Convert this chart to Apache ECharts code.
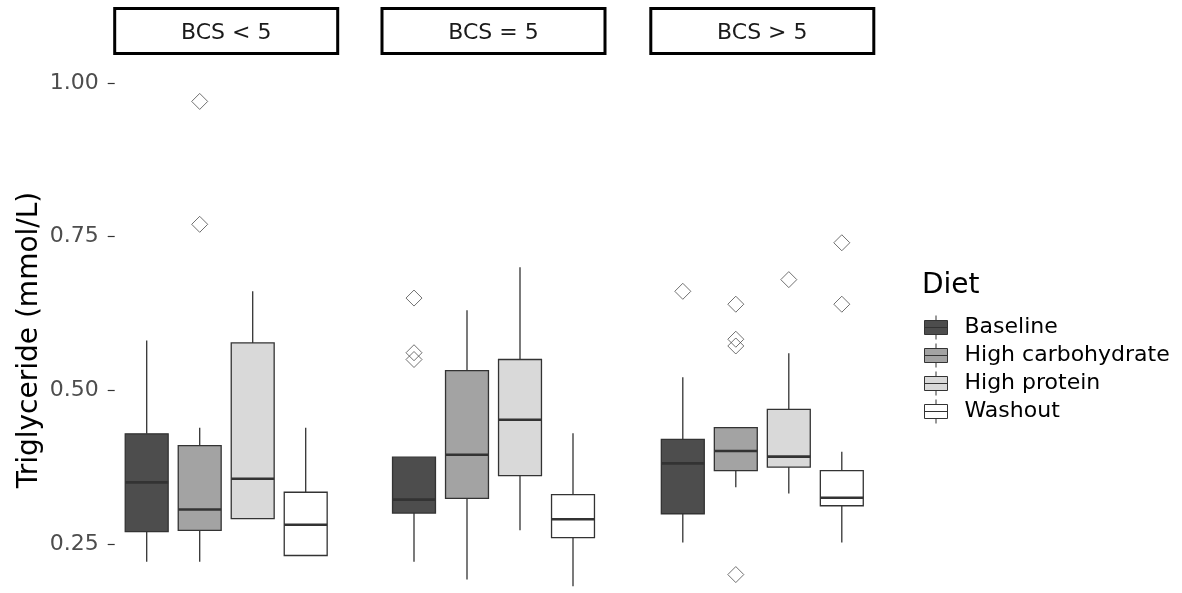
<!DOCTYPE html>
<html>
<head>
<meta charset="utf-8">
<script src="https://cdn.jsdelivr.net/npm/echarts@6/dist/echarts.min.js"></script>
<style>
  html, body { margin: 0; padding: 0; background: #ffffff; }
  #chart { width: 1182px; height: 593px; }
</style>
</head>
<body>
<div id="chart"></div>
<script>
// ---- data ----
const diets = ['Baseline', 'High carbohydrate', 'High protein', 'Washout'];
const facets = ['BCS < 5', 'BCS = 5', 'BCS > 5'];
const yTicks = [0.25, 0.50, 0.75, 1.00];

// box statistics per diet: [lower whisker, Q1, median, Q3, upper whisker]
const boxLt5 = [
  [0.221, 0.270, 0.350, 0.429, 0.581],
  [0.221, 0.272, 0.306, 0.410, 0.439],
  [0.291, 0.291, 0.356, 0.577, 0.661],
  [0.231, 0.231, 0.281, 0.334, 0.439]
];
const boxEq5 = [
  [0.221, 0.300, 0.322, 0.391, 0.391],
  [0.192, 0.324, 0.395, 0.532, 0.630],
  [0.272, 0.361, 0.452, 0.550, 0.700],
  [0.181, 0.260, 0.290, 0.330, 0.430]
];
const boxGt5 = [
  [0.252, 0.299, 0.381, 0.420, 0.521],
  [0.342, 0.369, 0.401, 0.439, 0.439],
  [0.332, 0.375, 0.392, 0.469, 0.560],
  [0.252, 0.312, 0.325, 0.369, 0.400]
];

// outliers: [diet index, value]
const outLt5 = [[1, 0.970], [1, 0.770]];
const outEq5 = [[0, 0.650], [0, 0.561], [0, 0.550]];
const outGt5 = [[0, 0.661], [1, 0.640], [1, 0.583], [1, 0.572], [1, 0.200], [2, 0.680], [3, 0.740], [3, 0.640]];

// ---- styling ----
const dietColors = ['#4D4D4D', '#A3A3A3', '#D9D9D9', '#FFFFFF'];
const FONT = 'DejaVu Sans';
const gridLefts = [120.2, 387.5, 656.3];
const gridWidth = 212;
const gridTop = 83;
const yMin = 0.17, yMax = 1.0;
const pxPerUnit = 620;

const boxes = [boxLt5, boxEq5, boxGt5];
const outs = [outLt5, outEq5, outGt5];

function renderBox(params, api) {
  const x = api.value(0);
  const lo = api.coord([x, api.value(1)]);
  const q1 = api.coord([x, api.value(2)]);
  const md = api.coord([x, api.value(3)]);
  const q3 = api.coord([x, api.value(4)]);
  const hi = api.coord([x, api.value(5)]);
  const bw = api.size([1, 0])[0] * 0.81;
  const hw = bw / 2;
  const cx = lo[0];
  const color = api.visual('color');
  const stroke = '#333333';
  return {
    type: 'group',
    children: [
      { type: 'line', shape: { x1: cx, y1: q3[1], x2: cx, y2: hi[1] }, style: { stroke: stroke, lineWidth: 1.3 } },
      { type: 'line', shape: { x1: cx, y1: q1[1], x2: cx, y2: lo[1] }, style: { stroke: stroke, lineWidth: 1.3 } },
      { type: 'rect', shape: { x: cx - hw, y: q3[1], width: bw, height: q1[1] - q3[1] }, style: { fill: color, stroke: stroke, lineWidth: 1.3 } },
      { type: 'line', shape: { x1: cx - hw, y1: md[1], x2: cx + hw, y2: md[1] }, style: { stroke: stroke, lineWidth: 2.6 } }
    ]
  };
}

const grids = [], xAxes = [], yAxes = [], series = [];
facets.forEach(function (f, fi) {
  grids.push({ left: gridLefts[fi], width: gridWidth, top: gridTop, height: (yMax - yMin) * pxPerUnit });
  xAxes.push({ type: 'category', gridIndex: fi, data: diets, show: false, boundaryGap: true });
  yAxes.push({
    type: 'value', gridIndex: fi, min: yMin, max: yMax,
    offset: 5.5,
    splitLine: { show: false },
    axisLine: { show: false },
    axisTick: { show: fi === 0, length: 7, lineStyle: { color: '#333333', width: 1.2 }, customValues: yTicks },
    axisLabel: {
      show: fi === 0, margin: 16, color: '#4D4D4D', fontFamily: FONT, fontSize: 22,
      customValues: yTicks,
      formatter: function (v) { return v.toFixed(2); }
    }
  });
  diets.forEach(function (d, di) {
    series.push({
      type: 'custom', name: d, xAxisIndex: fi, yAxisIndex: fi,
      renderItem: renderBox,
      itemStyle: { color: dietColors[di], borderColor: '#333333', borderWidth: 1 },
      encode: { x: 0, y: [1, 2, 3, 4, 5] },
      data: [[di].concat(boxes[fi][di])],
      silent: true
    });
  });
  series.push({
    type: 'scatter', name: 'outliers', xAxisIndex: fi, yAxisIndex: fi,
    symbol: 'diamond', symbolSize: 16,
    itemStyle: { color: 'rgba(0,0,0,0)', borderColor: '#4D4D4D', borderWidth: 1 },
    data: outs[fi], z: 5, silent: true, clip: false
  });
});

const graphics = [];
facets.forEach(function (f, fi) {
  const cx = gridLefts[fi] + gridWidth / 2;
  graphics.push({
    type: 'rect', shape: { x: cx - 111.5, y: 8.5, width: 223, height: 45 },
    style: { fill: '#ffffff', stroke: '#000000', lineWidth: 3 }
  });
  graphics.push({
    type: 'text', x: cx, y: 33,
    style: { text: f, fill: '#1A1A1A', font: '22px "' + FONT + '"', align: 'center', verticalAlign: 'middle' }
  });
});
graphics.push({
  type: 'text', x: 922, y: 286,
  style: { text: 'Diet', fill: '#000000', font: '28px "' + FONT + '"', align: 'left', verticalAlign: 'middle' }
});
graphics.push({
  type: 'text', x: 30, y: 340, rotation: Math.PI / 2,
  style: { text: 'Triglyceride (mmol/L)', fill: '#000000', font: '28px "' + FONT + '"', align: 'center', verticalAlign: 'middle' }
});

const chart = echarts.init(document.getElementById('chart'), null, { renderer: 'canvas' });
chart.setOption({
  backgroundColor: '#ffffff',
  animation: false,
  grid: grids,
  xAxis: xAxes,
  yAxis: yAxes,
  legend: {
    data: diets,
    orient: 'vertical',
    left: 924, top: 315,
    padding: 0,
    itemWidth: 23, itemHeight: 24, itemGap: 3,
    icon: 'path://M0,5L23,5L23,19L0,19Z M0,12L23,12 M11.5,0L11.5,5 M11.5,19L11.5,24',
    itemStyle: { borderColor: '#333333', borderWidth: 1 },
    textStyle: { fontFamily: FONT, fontSize: 22, color: '#000000', padding: [3, 0, 0, 12] },
    selectedMode: false
  },
  graphic: graphics,
  series: series
});
</script>
</body>
</html>
